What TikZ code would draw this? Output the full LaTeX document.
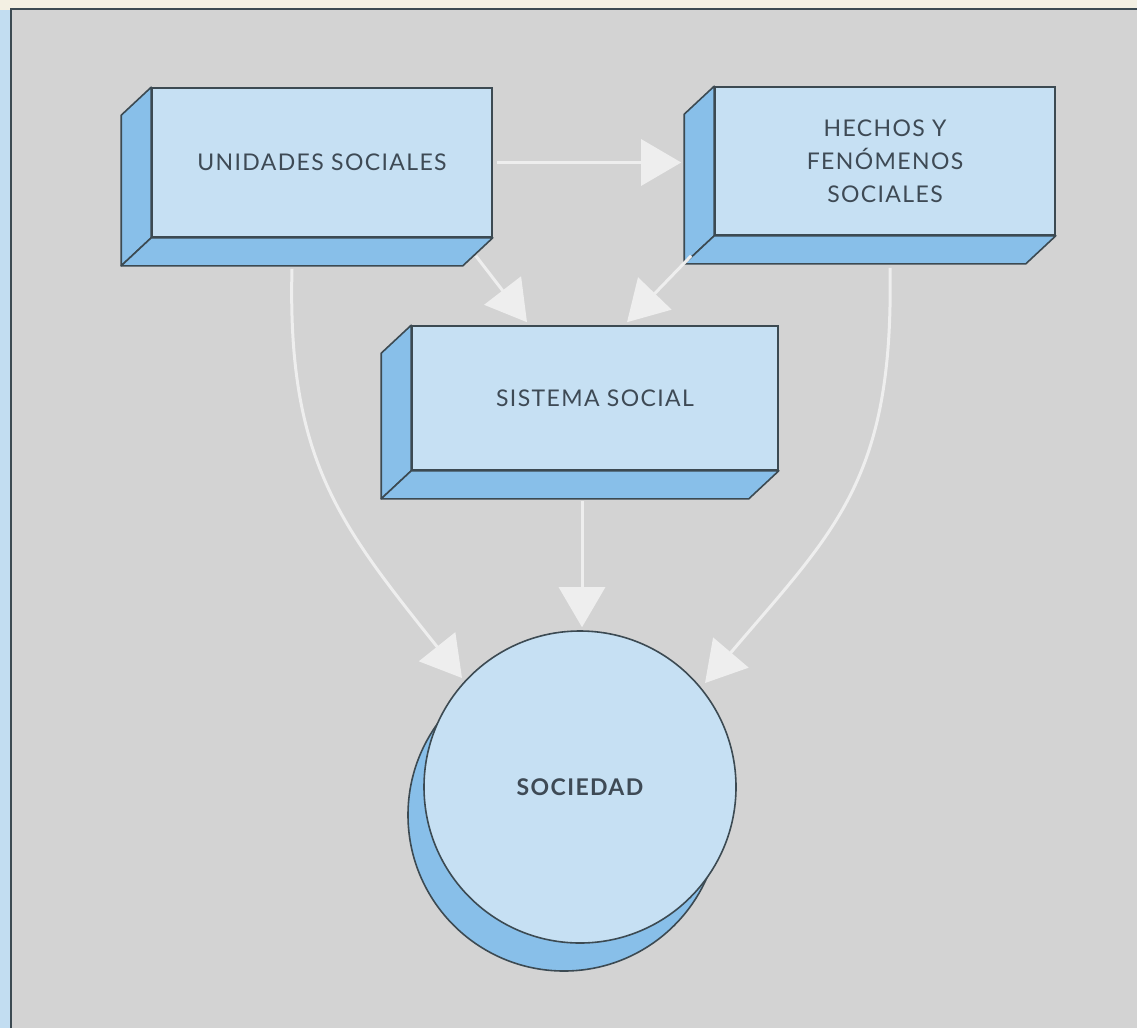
\documentclass[tikz,border=0pt]{standalone}
\usepackage{fontspec}
\setmainfont{Lato}[LetterSpace=6]
\usetikzlibrary{arrows.meta}
\definecolor{bg}{HTML}{D3D3D3}
\definecolor{frontc}{HTML}{C6E0F3}
\definecolor{sidec}{HTML}{88BFE9}
\definecolor{edge}{HTML}{3C4A52}
\definecolor{arr}{HTML}{EEEEEE}
\definecolor{txt}{HTML}{3E4A55}
\definecolor{strip}{HTML}{C2DDF1}
\definecolor{cream}{HTML}{F3F0E3}
\tikzset{
  face/.style={draw=edge, line width=1.6pt, fill=frontc, text=txt,
    font=\fontsize{23}{33}\selectfont, align=center, inner sep=0pt},
  sidefill/.style={draw=edge, line width=1.6pt, fill=sidec, line join=round},
  flow/.style={draw=arr, line width=3pt, -{Triangle[length=40pt,width=46pt,fill=arr]}},
}
\newcommand\slabsides[1]{%
  \filldraw[sidefill] (#1.north west) -- ++(-30,28) -- ([shift={(-30,28)}]#1.south west) -- (#1.south west) -- cycle;
  \filldraw[sidefill] (#1.south west) -- ++(-30,28) -- ([shift={(-30,28)}]#1.south east) -- (#1.south east) -- cycle;}
\begin{document}
\begin{tikzpicture}[x=1pt,y=-1pt]
\useasboundingbox (0,0) rectangle (1137,1028);
\fill[cream] (0,0) rectangle (1137,1028);
\fill[strip] (0,10) rectangle (11,1028);
\fill[bg] (11,9) rectangle (1137,1028);
\draw[edge, line width=2.5pt] (11,1028) -- (11,9) -- (1137,9);

% boxes
\node[face, minimum width=340pt, minimum height=149pt] (u) at (322,162.5) {UNIDADES SOCIALES};
\node[face, minimum width=340pt, minimum height=148pt] (h) at (885,161) {HECHOS Y\\FENÓMENOS\\SOCIALES};
\node[face, minimum width=366pt, minimum height=144pt] (s) at (595,398) {SISTEMA SOCIAL};
\slabsides{u}
\slabsides{h}
\slabsides{s}

% circle
\coordinate (socc) at (580,787);
\filldraw[sidefill] ([shift={(-16,28)}]socc) circle[radius=156pt];
\node[circle, draw=edge, line width=1.6pt, fill=frontc, minimum size=312pt, inner sep=0pt,
  text=txt, font=\fontsize{23}{25}\selectfont\bfseries] (soc) at (socc) {SOCIEDAD};

% arrows
\draw[flow] ([xshift=4pt]u.east) -- ([xshift=-33pt]h.west |- u.east);
\draw[flow] ([shift={(-17,18)}]u.south east) -- ([shift={(-68,-3)}]s.north);
\draw[flow] ([shift={(-23,20)}]h.south west) -- ([shift={(32,-3)}]s.north);
\draw[flow] ([shift={(-13,30)}]s.south) -- ([shift={(2,-3)}]soc.north);
\draw[flow] ([shift={(-30,31)}]u.south) .. controls (287,460) and (340,525) .. ([shift={(-118,-109)}]socc);
\draw[flow] ([shift={(5,32)}]h.south) .. controls (894,480) and (835,530) .. ([shift={(125,-104)}]socc);
\end{tikzpicture}
\end{document}
